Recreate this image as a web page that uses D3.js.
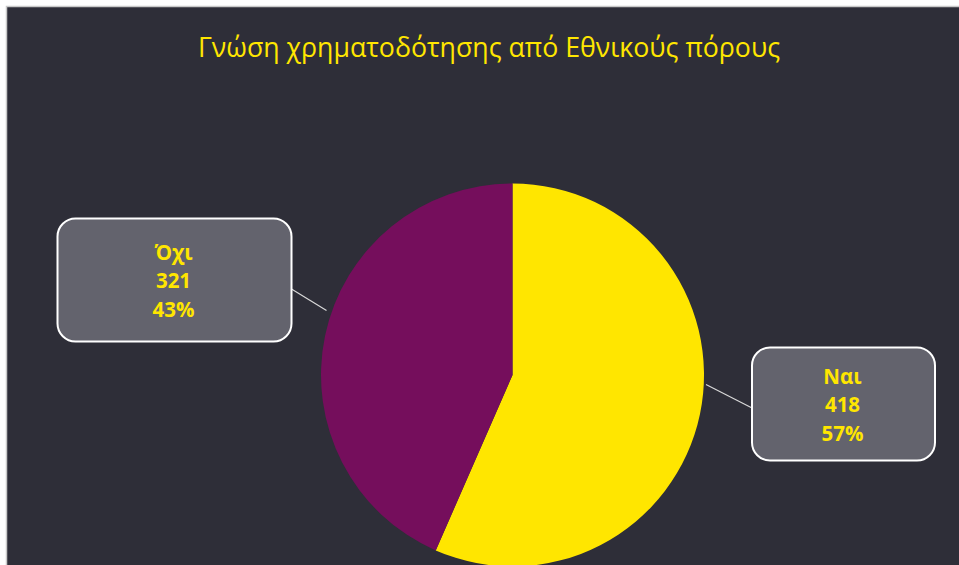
<!DOCTYPE html>
<html>
<head>
<meta charset="utf-8">
<script src="https://cdn.jsdelivr.net/npm/d3@7"></script>
<style>
  html, body { margin: 0; padding: 0; background: #ffffff; }
  svg { display: block; }
</style>
</head>
<body>
<svg id="chart" width="959" height="565"></svg>
<script>
// Survey answers: awareness of funding from national resources
const categories = ["Ναι", "Όχι"];
const counts = [418, 321];
const percentLabels = ["57%", "43%"];
const sliceColors = ["#FFE600", "#750E5C"];
const chartTitle = "Γνώση χρηματοδότησης από Εθνικούς πόρους";

const svg = d3.select("#chart");
const W = 959, H = 565;

// panel background with thin light border
svg.append("rect")
  .attr("x", 6.5).attr("y", 6.5)
  .attr("width", W).attr("height", H)
  .attr("fill", "#2E2E38")
  .attr("stroke", "#c9c9c9")
  .attr("stroke-width", 1.5);

// title
svg.append("text")
  .attr("x", 489).attr("y", 57)
  .attr("text-anchor", "middle")
  .attr("fill", "#FFE600")
  .attr("font-family", "'Open Sans', 'Noto Sans', sans-serif")
  .attr("font-size", 26.7)
  .text(chartTitle);

// pie
const cx = 512.5, cy = 375, radius = 191.5;
const data = categories.map((c, i) => ({ category: c, value: counts[i], pct: percentLabels[i], color: sliceColors[i] }));
const pie = d3.pie().value(d => d.value).sort(null);
const arc = d3.arc().innerRadius(0).outerRadius(radius);
const arcs = pie(data);

const g = svg.append("g").attr("transform", `translate(${cx},${cy})`);
g.selectAll("path.slice")
  .data(arcs)
  .join("path")
  .attr("class", "slice")
  .attr("d", arc)
  .attr("fill", d => d.data.color);

// callout boxes (label placement per slice)
const callouts = [
  { x: 752, y: 347.5, w: 183, h: 113, lineFrom: [706, 384.5], lineTo: [754, 409] },
  { x: 57.5, y: 218.5, w: 234, h: 123, lineFrom: [326.5, 310.5], lineTo: [291.5, 289] }
];

const labelG = svg.append("g");
arcs.forEach((a, i) => {
  const c = callouts[i];
  labelG.append("line")
    .attr("x1", c.lineFrom[0]).attr("y1", c.lineFrom[1])
    .attr("x2", c.lineTo[0]).attr("y2", c.lineTo[1])
    .attr("stroke", "#d9d9d9")
    .attr("stroke-width", 1.2);
  labelG.append("rect")
    .attr("x", c.x).attr("y", c.y)
    .attr("width", c.w).attr("height", c.h)
    .attr("rx", 18).attr("ry", 18)
    .attr("fill", "#63636D")
    .attr("stroke", "#ffffff")
    .attr("stroke-width", 2);
  const lines = [a.data.category, String(a.data.value), a.data.pct];
  const midX = c.x + c.w / 2 - 1;
  const firstBase = c.y + c.h / 2 - 20.5;
  lines.forEach((t, k) => {
    labelG.append("text")
      .attr("x", midX)
      .attr("y", firstBase + k * 28.8)
      .attr("text-anchor", "middle")
      .attr("fill", "#FFE600")
      .attr("font-family", "'Open Sans', 'Noto Sans', sans-serif")
      .attr("font-weight", "bold")
      .attr("font-size", 20.5)
      .text(t);
  });
});
</script>
</body>
</html>
